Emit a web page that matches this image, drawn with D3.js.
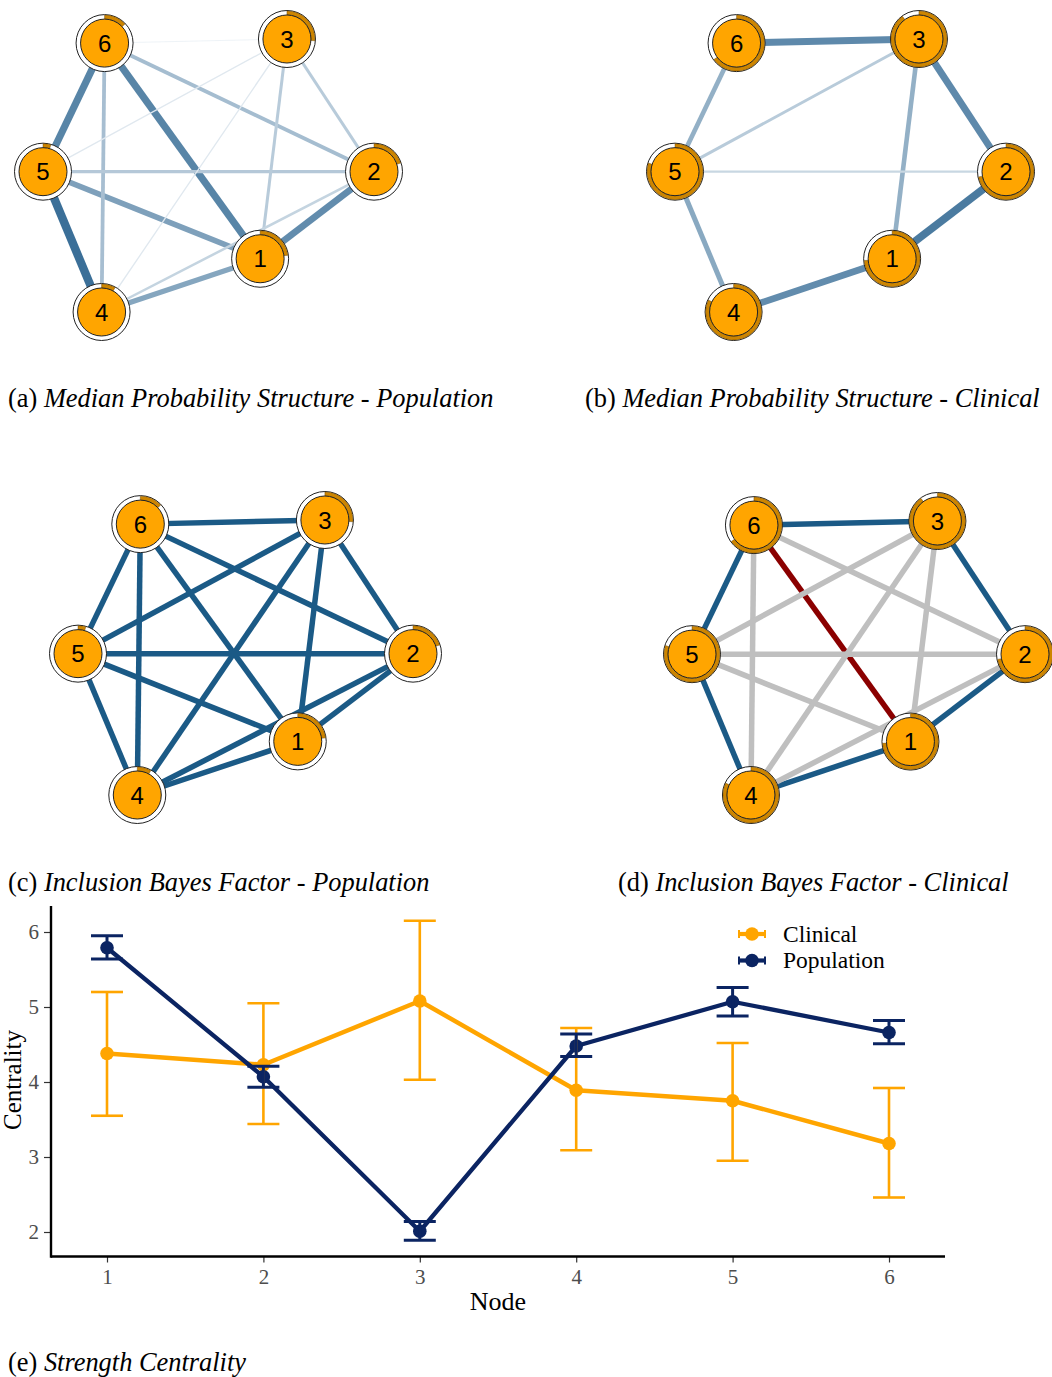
<!DOCTYPE html>
<html>
<head>
<meta charset="utf-8">
<script src="https://cdn.jsdelivr.net/npm/d3@7"></script>
<style>
  html, body { margin: 0; padding: 0; background: #fff; }
  svg { display: block; }
</style>
</head>
<body>
<svg id="fig" width="1052" height="1377"></svg>
<script>
// ---- network data ----
const nodeIds = [1, 2, 3, 4, 5, 6];
// qgraph-style layout coordinates (unit square, y down)
const nodeLayout = [
  [0.656, 0.805], [1.000, 0.486], [0.737, 0.000],
  [0.177, 1.000], [0.000, 0.486], [0.186, 0.015]
];
// posterior inclusion pie proportions per node
const piePopulation = [0.23, 0.20, 0.26, 0.08, 0.045, 0.13];
const pieClinical   = [0.74, 0.72, 0.90, 0.82, 0.80, 0.65];

// median probability structure: [from, to, relative strength]
const edgesMPSPopulation = [
  [5, 4, 1.00], [6, 5, 0.85], [6, 1, 0.85], [2, 1, 0.80], [5, 1, 0.66],
  [4, 1, 0.62], [6, 4, 0.45], [6, 2, 0.46], [5, 2, 0.38], [3, 2, 0.36],
  [3, 1, 0.36], [2, 4, 0.30], [3, 5, 0.16], [3, 4, 0.16], [6, 3, 0.10]
];
const edgesMPSClinical = [
  [2, 1, 0.92], [6, 3, 0.82], [3, 2, 0.82], [1, 4, 0.80], [5, 4, 0.60],
  [6, 5, 0.55], [3, 1, 0.55], [5, 3, 0.36], [5, 2, 0.28]
];
// inclusion Bayes factor evidence: "incl" | "excl" | "none"
const edgesBFPopulation = [
  [6, 3, "incl"], [6, 2, "incl"], [6, 1, "incl"], [6, 4, "incl"], [6, 5, "incl"],
  [3, 5, "incl"], [3, 4, "incl"], [3, 1, "incl"], [3, 2, "incl"], [5, 2, "incl"],
  [5, 1, "incl"], [5, 4, "incl"], [4, 1, "incl"], [4, 2, "incl"], [2, 1, "incl"]
];
const edgesBFClinical = [
  [6, 3, "incl"], [3, 2, "incl"], [2, 1, "incl"], [1, 4, "incl"], [4, 5, "incl"],
  [5, 6, "incl"], [6, 1, "excl"], [6, 2, "none"], [6, 4, "none"], [5, 3, "none"],
  [5, 2, "none"], [5, 1, "none"], [3, 4, "none"], [3, 1, "none"], [4, 2, "none"]
];

// ---- centrality data ----
const centralityNodes = [1, 2, 3, 4, 5, 6];
const clinicalMean  = [4.38, 4.23, 5.08, 3.89, 3.75, 3.18];
const clinicalLower = [3.55, 3.44, 4.03, 3.09, 2.95, 2.46];
const clinicalUpper = [5.20, 5.05, 6.15, 4.72, 4.52, 3.92];
const populationMean  = [5.79, 4.07, 2.01, 4.48, 5.07, 4.66];
const populationLower = [5.64, 3.93, 1.89, 4.34, 4.88, 4.51];
const populationUpper = [5.95, 4.21, 2.14, 4.64, 5.26, 4.82];
const yTicks = [2, 3, 4, 5, 6];
const seriesNames = ["Clinical", "Population"];

const svg = d3.select("#fig");
const serif = "'Liberation Serif', 'Times New Roman', serif";
const sans = "'Liberation Sans', Arial, sans-serif";

const ORANGE = "#FFA500";
const ORANGE3 = "#CD8500";
const NAVY = "#0b2462";

const edgeBase = "#3b6f98";
const evidenceColor = { incl: "#1b5a86", excl: "#8b0000", none: "#bfbfbf" };

function drawNetwork(box, edges, pies, edgeStyle) {
  const g = svg.append("g");
  const sx = d3.scaleLinear().domain([0, 1]).range([box.x0, box.x1]);
  const sy = d3.scaleLinear().domain([0, 1]).range([box.y0, box.y1]);
  const pos = id => {
    const p = nodeLayout[nodeIds.indexOf(id)];
    return [sx(p[0]), sy(p[1])];
  };
  g.selectAll("line.edge").data(edges).join("line")
    .attr("class", "edge")
    .attr("x1", d => pos(d[0])[0]).attr("y1", d => pos(d[0])[1])
    .attr("x2", d => pos(d[1])[0]).attr("y2", d => pos(d[1])[1])
    .attr("stroke", d => edgeStyle(d).color)
    .attr("stroke-width", d => edgeStyle(d).width)
    .attr("stroke-linecap", "butt");

  const rIn = 24, rOut = 28.5;
  const arc = d3.arc().innerRadius(rIn).outerRadius(rOut - 0.5).startAngle(0);
  const nodes = g.selectAll("g.node").data(nodeIds).join("g")
    .attr("class", "node")
    .attr("transform", d => `translate(${pos(d)[0]},${pos(d)[1]})`);
  nodes.append("circle").attr("r", rOut)
    .attr("fill", "#fff").attr("stroke", "#222").attr("stroke-width", 1);
  nodes.append("path")
    .attr("d", (d, i) => arc({ endAngle: 2 * Math.PI * pies[i] }))
    .attr("fill", ORANGE3).attr("stroke", "#5a3b00").attr("stroke-width", 0.4);
  nodes.append("circle").attr("r", rIn)
    .attr("fill", ORANGE).attr("stroke", "#222").attr("stroke-width", 1);
  nodes.append("text")
    .attr("text-anchor", "middle").attr("dy", "0.36em")
    .attr("font-family", sans).attr("font-size", 24).attr("fill", "#000")
    .text(d => d);
}

const strengthColor = d3.interpolateRgb("#ffffff", edgeBase);
const mpsStyle = d => ({ color: strengthColor(d[2]), width: 8.4 * d[2] });
const bfStyle = d => ({ color: evidenceColor[d[2]], width: 5.5 });

drawNetwork({ x0: 43, x1: 374, y0: 39, y1: 312 }, edgesMPSPopulation, piePopulation, mpsStyle);
drawNetwork({ x0: 675, x1: 1006, y0: 39, y1: 312 }, edgesMPSClinical, pieClinical, mpsStyle);
drawNetwork({ x0: 78, x1: 413, y0: 520, y1: 795 }, edgesBFPopulation, piePopulation, bfStyle);
drawNetwork({ x0: 692, x1: 1025, y0: 521, y1: 795 }, edgesBFClinical, pieClinical, bfStyle);

// ---- panel captions ----
const captions = [
  { tag: "(a) ", title: "Median Probability Structure - Population", x: 8, y: 407 },
  { tag: "(b) ", title: "Median Probability Structure - Clinical", x: 585, y: 407 },
  { tag: "(c) ", title: "Inclusion Bayes Factor - Population", x: 8, y: 891 },
  { tag: "(d) ", title: "Inclusion Bayes Factor - Clinical", x: 618, y: 891 },
  { tag: "(e) ", title: "Strength Centrality", x: 8, y: 1371 }
];
captions.forEach(c => {
  const t = svg.append("text").attr("x", c.x).attr("y", c.y)
    .attr("font-family", serif).attr("font-size", 26.4).attr("fill", "#000");
  t.append("tspan").text(c.tag);
  t.append("tspan").attr("font-style", "italic").text(c.title);
});

// ---- centrality plot ----
const x = d3.scaleLinear().domain([1, 6]).range([107, 889]);
const y = d3.scaleLinear().domain([2, 6]).range([1232, 932]);
const axisY0 = 1256.5, axisX0 = 51;

const plot = svg.append("g");

const xAxis = plot.append("g").attr("transform", `translate(0,${axisY0})`)
  .call(d3.axisBottom(x).tickValues(centralityNodes).tickFormat(d3.format("d"))
    .tickSize(6).tickPadding(7));
const yAxis = plot.append("g").attr("transform", `translate(${axisX0},0)`)
  .call(d3.axisLeft(y).tickValues(yTicks).tickFormat(d3.format("d"))
    .tickSize(7).tickPadding(5));
[xAxis, yAxis].forEach(a => {
  a.select(".domain").remove();
  a.selectAll(".tick line").attr("stroke", "#333").attr("stroke-width", 1.2);
  a.selectAll(".tick text").attr("font-family", serif).attr("font-size", 21)
    .attr("fill", "#4d4d4d");
});
plot.append("line").attr("x1", axisX0).attr("x2", 945)
  .attr("y1", axisY0).attr("y2", axisY0).attr("stroke", "#000").attr("stroke-width", 2.4);
plot.append("line").attr("x1", axisX0).attr("x2", axisX0)
  .attr("y1", 906).attr("y2", axisY0 + 1.2).attr("stroke", "#000").attr("stroke-width", 2.4);

plot.append("text").attr("x", 498).attr("y", 1310).attr("text-anchor", "middle")
  .attr("font-family", serif).attr("font-size", 26).attr("fill", "#000").text("Node");
plot.append("text").attr("transform", "translate(21,1080) rotate(-90)")
  .attr("text-anchor", "middle")
  .attr("font-family", serif).attr("font-size", 25).attr("fill", "#000").text("Centrality");

const series = [
  { name: seriesNames[0], color: ORANGE, mean: clinicalMean, lo: clinicalLower, hi: clinicalUpper, lw: 4.5, ew: 2.6 },
  { name: seriesNames[1], color: NAVY, mean: populationMean, lo: populationLower, hi: populationUpper, lw: 4.3, ew: 3 }
];
const line = d3.line().x((d, i) => x(centralityNodes[i])).y(d => y(d));

series.forEach(s => {
  plot.append("path").attr("d", line(s.mean)).attr("fill", "none")
    .attr("stroke", s.color).attr("stroke-width", s.lw).attr("stroke-linejoin", "round");
});
series.forEach(s => {
  plot.append("g").selectAll("circle").data(s.mean).join("circle")
    .attr("cx", (d, i) => x(centralityNodes[i])).attr("cy", d => y(d))
    .attr("r", 6.8).attr("fill", s.color);
});
const capHalf = 16;
series.forEach(s => {
  const eg = plot.append("g").attr("stroke", s.color).attr("stroke-width", s.ew);
  centralityNodes.forEach((n, i) => {
    const cx = x(n);
    eg.append("line").attr("x1", cx).attr("x2", cx).attr("y1", y(s.lo[i])).attr("y2", y(s.hi[i]));
    eg.append("line").attr("x1", cx - capHalf).attr("x2", cx + capHalf).attr("y1", y(s.lo[i])).attr("y2", y(s.lo[i]));
    eg.append("line").attr("x1", cx - capHalf).attr("x2", cx + capHalf).attr("y1", y(s.hi[i])).attr("y2", y(s.hi[i]));
  });
});

// legend
const legend = plot.append("g").attr("transform", "translate(738,934)");
series.forEach((s, i) => {
  const row = legend.append("g").attr("transform", `translate(0,${i * 26.5})`);
  row.append("line").attr("x1", 0).attr("x2", 28).attr("stroke", s.color).attr("stroke-width", 4.2);
  row.append("line").attr("x1", 1).attr("x2", 1).attr("y1", -4).attr("y2", 4).attr("stroke", s.color).attr("stroke-width", 2);
  row.append("line").attr("x1", 27).attr("x2", 27).attr("y1", -4).attr("y2", 4).attr("stroke", s.color).attr("stroke-width", 2);
  row.append("circle").attr("cx", 14).attr("r", 6.8).attr("fill", s.color);
  row.append("text").attr("x", 45).attr("dy", "0.33em")
    .attr("font-family", serif).attr("font-size", 23.5).attr("fill", "#000").text(s.name);
});
</script>
</body>
</html>
